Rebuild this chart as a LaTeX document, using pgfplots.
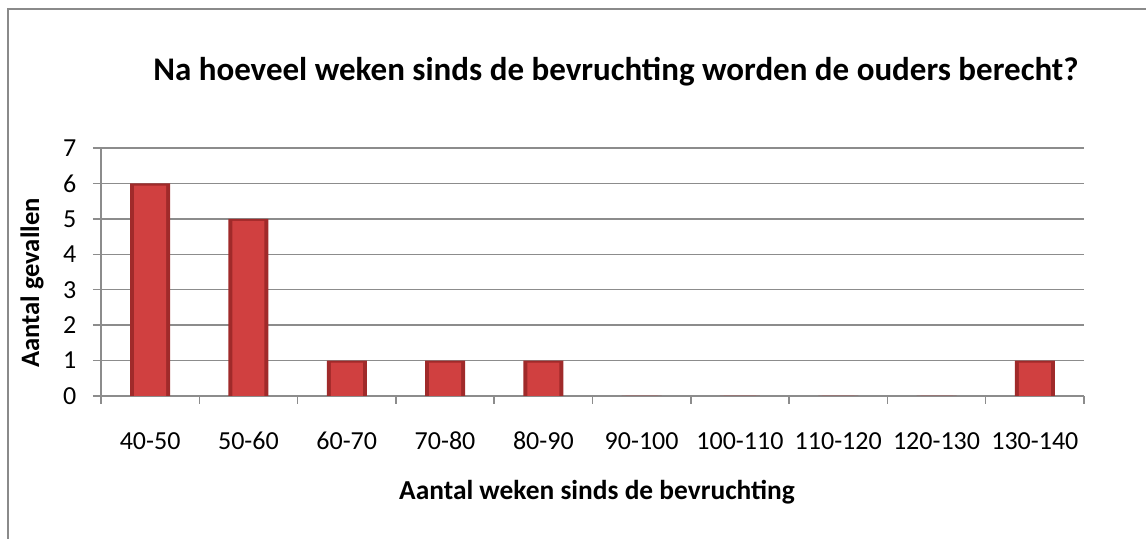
\documentclass[border=0pt]{standalone}
\usepackage{pgfplots}
\pgfplotsset{compat=1.18}
\usepackage{fontspec}
\setmainfont{Carlito}
\definecolor{gridgray}{HTML}{8C8C8C}
\definecolor{bordergray}{HTML}{8A8A8A}
\definecolor{barmid}{HTML}{D04040}
\definecolor{baredge}{HTML}{A02A2A}
\begin{document}
\begin{tikzpicture}
\useasboundingbox (-50.5pt,-71.5pt) rectangle (522.5pt,198pt);
\draw[bordergray, line width=1pt] (535pt,193.5pt) -- (-46.5pt,193.5pt) -- (-46.5pt,-80pt);
\begin{axis}[
  at={(0pt,0pt)}, anchor=south west,
  scale only axis, width=491.5pt, height=124pt,
  xmin=-0.5, xmax=9.5, ymin=0, ymax=7,
  axis x line*=bottom, axis y line*=left,
  axis line style={gridgray, line width=0.75pt},
  xtick={0,...,9},
  xticklabels={40-50,50-60,60-70,70-80,80-90,90-100,100-110,110-120,120-130,130-140},
  minor xtick={-0.5,0.5,...,9.5},
  major x tick style={draw=none},
  minor x tick style={gridgray, line width=0.75pt},
  minor tick length=4pt,
  ytick={0,...,7},
  y tick style={gridgray, line width=0.75pt},
  major tick length=4pt,
  tick align=outside,
  ymajorgrids, major grid style={gridgray, line width=0.75pt},
  tick label style={font=\fontsize{13}{15}\selectfont, text=black},
  xticklabel style={anchor=base, yshift=-22.6pt},
  yticklabel style={anchor=east, xshift=-4.8pt},
  /pgf/number format/assume math mode=true,
  clip=false,
]
\addplot[ybar, bar width=20pt, bar shift=0pt, draw=none, fill=baredge]
  coordinates {(0,6) (1,5) (2,1) (3,1) (4,1) (5,0) (6,0) (7,0) (8,0) (9,1)};
\addplot[ybar, bar width=16pt, bar shift=0pt, draw=none, fill=barmid]
  coordinates {(0,5.94) (1,4.94) (2,0.94) (3,0.94) (4,0.94) (5,0) (6,0) (7,0) (8,0) (9,0.94)};
\end{axis}
\node[font=\bfseries\fontsize{16.5}{19}\selectfont] at (257.5pt,162pt) {Na hoeveel weken sinds de bevruchting worden de ouders berecht?};
\node[font=\bfseries\fontsize{13.7}{16}\selectfont] at (248pt,-48pt) {Aantal weken sinds de bevruchting};
\node[font=\bfseries\fontsize{13.3}{16}\selectfont, rotate=90] at (-34.5pt,56.5pt) {Aantal gevallen};
\end{tikzpicture}
\end{document}
